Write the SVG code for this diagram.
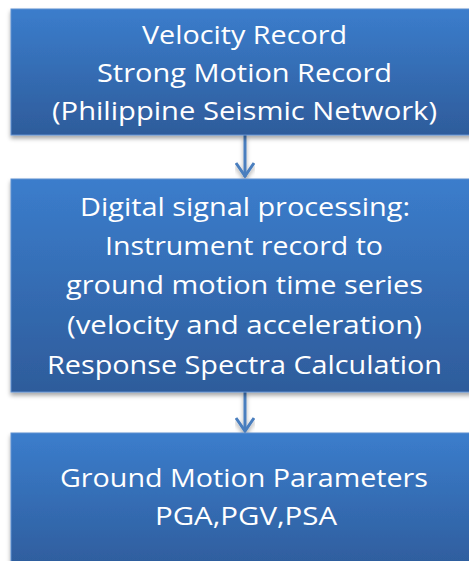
<svg xmlns="http://www.w3.org/2000/svg" width="469" height="561" viewBox="0 0 469 561">
  <defs>
    <linearGradient id="boxFill" x1="0" y1="0" x2="0" y2="1">
      <stop offset="0" stop-color="#3b7dcc"/>
      <stop offset="1" stop-color="#2e5c9b"/>
    </linearGradient>
    <filter id="shadow" x="-5%" y="-5%" width="110%" height="115%">
      <feDropShadow dx="0" dy="3" stdDeviation="2" flood-color="#000" flood-opacity="0.35"/>
    </filter>
  </defs>
  <style>
    .box { fill: url(#boxFill); stroke: #5f8fcf; stroke-width: 1; filter: url(#shadow); }
    .label { font-family: "Open Sans", "Noto Sans", "Liberation Sans", sans-serif; font-size: 26px; fill: #ffffff; text-anchor: middle; }
    .link { stroke: #4a7ebe; stroke-width: 3; fill: none; }
    .head { stroke: #4a7ebe; stroke-width: 3; fill: none; stroke-linecap: butt; }
  </style>
  <rect width="469" height="561" fill="#ffffff"/>

  <!-- connectors: vertical shafts with open chevron heads -->
  <g id="connectors" filter="url(#shadow)">
    <line class="link" x1="245" y1="135" x2="245" y2="177"/>
    <polyline class="head" points="236,163 245,176 254,163"/>
    <line class="link" x1="245" y1="392" x2="245" y2="431"/>
    <polyline class="head" points="236,418 245,431 254,418"/>
  </g>

  <g id="node-records">
    <rect class="box" x="11" y="9" width="470" height="126"/>
    <text class="label" x="244.5" y="44" textLength="205" lengthAdjust="spacingAndGlyphs">Velocity Record</text>
    <text class="label" x="244.5" y="82" textLength="295" lengthAdjust="spacingAndGlyphs">Strong Motion Record</text>
    <text class="label" x="244.5" y="120" textLength="385" lengthAdjust="spacingAndGlyphs">(Philippine Seismic Network)</text>
  </g>

  <g id="node-processing">
    <rect class="box" x="11" y="179" width="470" height="213"/>
    <text class="label" x="245" y="216" textLength="330" lengthAdjust="spacingAndGlyphs">Digital signal processing:</text>
    <text class="label" x="244" y="255" textLength="278" lengthAdjust="spacingAndGlyphs">Instrument record to</text>
    <text class="label" x="244.5" y="294" textLength="357" lengthAdjust="spacingAndGlyphs">ground motion time series</text>
    <text class="label" x="244.5" y="334" textLength="355" lengthAdjust="spacingAndGlyphs">(velocity and acceleration)</text>
    <text class="label" x="244.5" y="374" textLength="395" lengthAdjust="spacingAndGlyphs">Response Spectra Calculation</text>
  </g>

  <g id="node-parameters">
    <rect class="box" x="11" y="433" width="470" height="140"/>
    <text class="label" x="244" y="487" textLength="368" lengthAdjust="spacingAndGlyphs">Ground Motion Parameters</text>
    <text class="label" x="246" y="525" textLength="182" lengthAdjust="spacingAndGlyphs">PGA,PGV,PSA</text>
  </g>
</svg>
